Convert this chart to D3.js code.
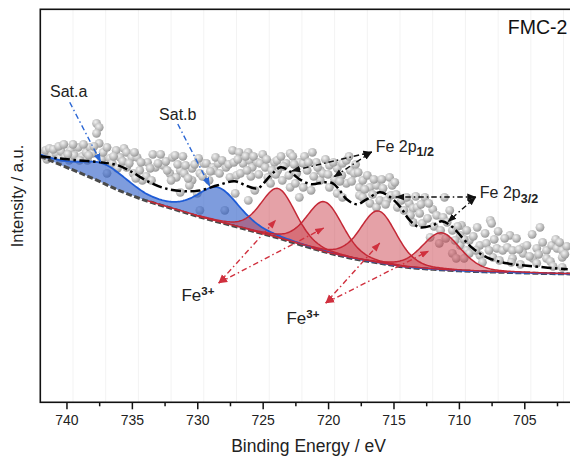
<!DOCTYPE html>
<html>
<head>
<meta charset="utf-8">
<script src="https://cdn.jsdelivr.net/npm/d3@7"></script>
<style>
  html, body { margin: 0; padding: 0; background: #fff; }
  svg { display: block; font-family: "Liberation Sans", Arial, sans-serif; }
</style>
</head>
<body>
<svg id="chart" width="570" height="457"></svg>
<script>
// Fe 2p XPS spectrum of FMC-2 with Fe3+ and satellite deconvolution

// Binding-energy ticks (eV)
const xTicksMajor = [740, 735, 730, 725, 720, 715, 710, 705];
const xTicksMinor = [737.5, 732.5, 727.5, 722.5, 717.5, 712.5, 707.5, 702.5];

// Measured spectrum: [binding energy (eV), intensity (a.u.)]
const measured = [
  [741.7,24.7],[741.6,25.2],[741.3,25.4],[741.1,24.7],[740.8,24.9],[740.5,24.4],[740.4,25.1],[740.1,24.5],
  [739.8,24.2],[739.7,25.2],[739.4,24.7],[739.1,25.5],[738.8,24.6],[738.5,25.0],[738.4,24.2],[738.2,25.5],
  [738.0,24.9],[737.7,27.9],[737.5,27.5],[737.7,26.9],[737.5,25.9],
  [741.5,24.3],[741.0,25.3],[740.6,25.6],[740.2,25.8],[739.9,24.8],[739.5,25.8],[739.0,24.2],[738.7,25.8],
  [738.3,24.7],[737.9,25.6],[737.3,24.3],
  [737.2,25.0],[736.7,24.4],[736.2,25.2],[735.9,24.5],[735.6,25.4],[735.4,25.0],[735.0,24.5],[734.6,24.5],
  [736.5,23.9],[736.1,23.4],[735.4,23.5],[734.9,22.9],[734.4,23.2],[734.2,22.2],[733.9,22.6],[733.5,22.2],
  [736.9,22.9],[733.8,24.0],[733.2,23.5],
  [736.9,25.5],[736.4,24.6],[735.7,24.1],[735.2,23.9],[734.8,25.0],[734.3,24.0],[733.6,23.4],[734.7,22.4],
  [733.4,24.8],
  [732.6,23.7],[732.4,24.1],[732.1,22.9],[731.9,24.5],[731.7,24.7],[731.6,22.5],[731.3,23.2],[731.0,22.9],
  [730.4,23.4],[730.4,22.2],[730.0,20.9],[729.8,22.9],[729.8,19.2],[729.5,23.9],[729.3,23.9],[728.8,23.5],
  [728.7,23.2],[728.4,23.9],[728.3,22.9],[727.9,19.2],[727.8,23.5],[727.5,22.5],[727.3,25.2],[726.8,25.0],
  [727.1,20.9],[731.3,21.0],[732.0,22.2],[733.0,23.9],[730.6,21.7],[729.1,22.2],[730.7,22.4],
  [732.8,24.8],[732.3,23.2],[731.5,23.8],[731.1,24.6],[730.9,23.7],[730.2,23.8],[729.9,24.4],[729.6,22.6],
  [729.0,23.1],[728.6,24.5],[728.1,24.2],[727.6,23.8],[727.2,24.0],[727.0,22.7],
  [726.5,23.9],[726.1,25.0],[726.0,24.2],[725.9,22.6],[725.8,23.5],[725.6,21.2],[725.4,24.0],[725.2,23.9],
  [724.8,23.5],[724.6,22.5],[724.4,21.9],[724.1,24.0],[723.85,23.2],[723.5,22.2],[722.9,24.9],[722.9,21.5],
  [722.7,24.6],[723.2,23.9],[726.1,20.2],[726.7,22.9],[722.4,22.9],[722.2,24.0],[722.2,20.5],[723.9,24.2],
  [726.9,24.3],[726.3,24.6],[726.2,23.2],[725.7,24.6],[725.3,22.8],[725.0,24.8],[724.7,24.3],[724.3,23.2],
  [724.0,22.8],[723.6,24.6],[723.4,23.6],[723.0,22.7],[722.6,23.8],[722.5,21.9],
  [721.9,23.9],[721.6,23.2],[721.2,25.0],[720.9,24.0],[720.6,23.2],[720.6,22.2],[720.4,22.9],[719.9,23.7],
  [719.9,21.5],[719.3,23.4],[719.3,20.9],[718.95,22.7],[718.9,23.9],[718.9,20.5],[718.6,24.2],[718.6,21.9],
  [718.3,23.2],[718.0,22.9],[717.7,23.0],[717.6,21.5],[717.6,20.7],[717.35,22.2],[717.35,20.5],[716.8,21.5],
  [716.8,19.9],[716.3,21.7],[716.3,19.5],[716.05,20.2],[715.8,21.4],[715.5,20.2],[715.3,22.5],[715.1,21.7],
  [714.9,22.0],[714.7,19.5],[721.3,21.2],[721.9,21.5],
  [721.8,24.6],[721.5,24.0],[721.1,22.6],[720.8,23.5],[720.2,24.3],[720.0,22.8],[719.6,24.0],[719.5,22.3],
  [719.1,22.1],[718.4,24.6],[718.2,22.1],[717.9,23.8],[717.2,21.3],[717.0,22.7],[716.6,20.8],[716.5,22.3],
  [715.9,22.3],[715.6,19.8],[715.2,20.7],[714.8,20.8],
  [714.4,20.2],[713.8,19.9],[713.5,19.4],[713.5,18.0],[713.2,19.5],[713.0,18.9],[712.8,17.9],[712.6,20.5],
  [712.2,16.5],[712.0,19.3],[711.7,18.7],[711.5,15.9],[711.2,18.5],[711.1,20.5],[710.9,18.0],[710.5,17.2],
  [710.5,14.9],[710.2,14.4],[709.9,16.7],[709.9,15.7],[709.8,17.7],[709.4,17.2],[709.4,15.2],[709.2,16.2],
  [709.2,14.9],
  [714.2,19.2],[714.0,20.5],[713.7,18.7],[713.3,20.6],[712.9,19.8],[712.4,18.4],[712.3,19.9],[711.9,17.6],
  [711.4,17.2],[711.0,16.4],[710.7,19.2],[710.3,16.2],[710.1,17.6],[709.6,16.3],[709.6,14.4],
  [708.6,17.5],[708.4,15.7],[708.4,14.7],[708.2,14.0],[707.9,15.9],[707.6,18.2],[707.5,17.9],[707.4,14.5],
  [707.1,15.4],[707.0,17.1],[706.65,15.2],[706.3,15.5],[706.1,16.7],[705.9,15.2],[705.9,14.4],[705.6,16.4],
  [705.1,15.5],[705.1,14.9],[704.8,15.7],[704.35,14.4],[704.05,15.4],[704.05,13.9],[703.8,17.5],[703.3,15.2],
  [703.3,14.4],[702.9,15.7],[702.6,16.3],[702.5,15.4],[702.1,15.2],[702.1,14.5],[702.1,13.5],[701.75,15.6],
  [708.9,16.6],[708.7,15.2],[708.0,16.9],[707.7,15.2],[707.3,16.3],[706.9,14.2],[706.5,16.4],[706.0,14.0],
  [705.4,15.3],[705.3,13.8],[704.6,14.6],[704.4,16.8],[703.9,14.8],[703.6,16.0],[703.0,14.1],[702.8,13.6],
  [702.3,16.0],[701.9,14.8]
];

// Shirley-type background
const bgEnergy    = [742, 740, 738, 736, 734, 732, 730, 728, 726, 724, 722, 720, 718, 716, 714, 712, 710, 708, 706, 704, 702, 700];
const bgIntensity = [24.6, 23.5, 22.4, 21.2, 20.2, 19.4, 18.6, 17.9, 17.2, 16.5, 15.7, 14.95, 14.35, 13.9, 13.5, 13.3, 13.15, 13.05, 12.98, 12.9, 12.85, 12.8];

// Fitted envelope
const envEnergy    = [741.97, 740.67, 739.14, 737.38, 736.08, 735.09, 733.79, 732.49, 730.96, 729.74, 728.44, 727.14, 726.14,
                      725.38, 724.39, 723.62, 722.94, 722.17, 721.25, 720.33, 719.64, 719.11, 718.58, 717.81, 717.05, 716.05,
                      715.44, 714.52, 713.76, 712.99, 712.0, 711.31, 710.47, 709.7, 708.94, 707.87, 706.34, 704.35, 701.68];
const envIntensity = [24.6, 24.4, 24.2, 24.0, 23.7, 23.1, 22.1, 21.4, 21.1, 21.2, 21.7, 22.1, 21.6,
                      21.4, 22.7, 23.5, 23.1, 22.3, 21.8, 22.0, 21.9, 21.2, 20.3, 19.8, 20.3, 21.0,
                      20.7, 19.6, 18.2, 17.5, 17.7, 18.1, 17.5, 16.4, 15.4, 14.5, 13.9, 13.6, 13.3];

// Satellite components (Sat.a, Sat.b): centre (eV), height (a.u.), FWHM (eV)
const satCenter = [737.0, 728.4];
const satHeight = [1.9, 3.4];
const satFwhm   = [4.4, 3.9];
const satLorentz = 0.4;

// Fe3+ components (2p1/2 and 2p3/2 multiplets)
const fe3Center = [723.8, 720.25, 716.15, 711.35];
const fe3Height = [4.95, 5.0, 5.2, 3.7];
const fe3Fwhm   = [3.2, 3.3, 3.3, 3.5];
const fe3Lorentz = 0.3;

// Annotations: label, anchor [eV, a.u.], arrow from -> to
const satLabels = [
  { text: "Sat.a", at: [739.83, 30.53], from: [739.75, 30.0], to: [737.38, 24.03] },
  { text: "Sat.b", at: [731.49, 28.23], from: [731.49, 27.83], to: [729.05, 21.63] }
];
const orbitLabels = [
  { main: "Fe 2p", sub: "1/2", at: [716.36, 25.08], from: [716.66, 25.03], to: [[722.78, 23.13], [719.57, 22.53]] },
  { main: "Fe 2p", sub: "3/2", at: [708.40, 20.40], from: [708.71, 20.53], to: [[714.83, 20.53], [710.85, 18.03]] }
];
const ionLabels = [
  { main: "Fe", sup: "3+", at: [731.21, 10.18], from: [728.36, 11.93], to: [[724.0, 18.23], [720.33, 17.43]] },
  { main: "Fe", sup: "3+", at: [723.18, 7.88],  from: [720.18, 9.93],  to: [[716.05, 15.93], [712.30, 15.13]] }
];
const sampleName = { text: "FMC-2", at: [706.26, 36.83] };

// ---------------------------------------------------------------
(function draw() {
const svg = d3.select("#chart");
const pL = 40.3, pR = 589.7, pT = 9.3, pB = 402.3;

const x = d3.scaleLinear().domain([742, 700]).range([pL, pR]);
const y = d3.scaleLinear().domain([0, 39.3]).range([pB, pT]);

const bgAt = d3.scaleLinear().domain(bgEnergy).range(bgIntensity);

// Pseudo-Voigt line shape
function pv(e, c, h, w, eta) {
  const t = (e - c) / w;
  return h * ((1 - eta) * Math.exp(-4 * Math.LN2 * t * t) + eta / (1 + 4 * t * t));
}

const grid = d3.range(742, 699.95, -0.1);

const defs = svg.append("defs");
defs.append("clipPath").attr("id", "plotClip")
  .append("rect").attr("x", pL).attr("y", pT).attr("width", pR - pL).attr("height", pB - pT);

const ball = defs.append("radialGradient").attr("id", "ball")
  .attr("cx", "38%").attr("cy", "35%").attr("r", "65%");
ball.append("stop").attr("offset", "0%").attr("stop-color", "#f2f2f2");
ball.append("stop").attr("offset", "55%").attr("stop-color", "#c4c4c4");
ball.append("stop").attr("offset", "100%").attr("stop-color", "#9a9a9a");

function marker(id, color) {
  defs.append("marker").attr("id", id)
    .attr("viewBox", "0 -4 9 8").attr("refX", 8.5).attr("refY", 0)
    .attr("markerUnits", "userSpaceOnUse").attr("markerWidth", 9).attr("markerHeight", 8)
    .attr("orient", "auto-start-reverse")
    .append("path").attr("d", "M0,-3.4L9,0L0,3.4Z").attr("fill", color);
}
marker("arrBlue", "#2a66d4");
marker("arrBlack", "#111");
marker("arrRed", "#d0303e");

// faint grid
const gridG = svg.append("g").attr("stroke", "#f3f3f3").attr("stroke-width", 1);
d3.range(742, 700, -2.5).slice(1).forEach(e => {
  gridG.append("line").attr("x1", x(e)).attr("x2", x(e)).attr("y1", pT).attr("y2", pB);
});

const plot = svg.append("g").attr("clip-path", "url(#plotClip)");

// measured points
plot.append("g").selectAll("circle").data(measured).join("circle")
  .attr("cx", d => x(d[0])).attr("cy", d => y(d[1])).attr("r", 4.4)
  .attr("fill", "url(#ball)");

// satellite components (summed)
const satCurve = grid.map(e => {
  let s = bgAt(e);
  satCenter.forEach((c, i) => { s += pv(e, c, satHeight[i], satFwhm[i], satLorentz); });
  return [e, s];
});
plot.append("path").datum(satCurve)
  .attr("fill", "#2f5fc8").attr("fill-opacity", 0.62)
  .attr("d", d3.area().x(d => x(d[0])).y0(d => y(bgAt(d[0]))).y1(d => y(d[1])));

// Fe3+ components, drawn over their own energy window
const fe3Curves = fe3Center.map((c, i) =>
  grid.filter(e => Math.abs(e - c) <= 10)
      .map(e => [e, bgAt(e) + pv(e, c, fe3Height[i], fe3Fwhm[i], fe3Lorentz)]));
fe3Curves.forEach(curve => {
  plot.append("path").datum(curve)
    .attr("fill", "#c83a48").attr("fill-opacity", 0.48)
    .attr("d", d3.area().x(d => x(d[0])).y0(d => y(bgAt(d[0]))).y1(d => y(d[1])));
});

// background
plot.append("path").datum(bgEnergy.map((e, i) => [e, bgIntensity[i]]))
  .attr("fill", "none").attr("stroke", "#4a4a4a").attr("stroke-width", 3)
  .attr("stroke-dasharray", "6,2.5")
  .attr("d", d3.line().x(d => x(d[0])).y(d => y(d[1])).curve(d3.curveMonotoneX));

// component outlines
plot.append("path").datum(satCurve)
  .attr("fill", "none").attr("stroke", "#1f5cd6").attr("stroke-width", 1.8)
  .attr("d", d3.line().x(d => x(d[0])).y(d => y(d[1])));
fe3Curves.forEach(curve => {
  plot.append("path").datum(curve)
    .attr("fill", "none").attr("stroke", "#c42836").attr("stroke-width", 1.5)
    .attr("d", d3.line().x(d => x(d[0])).y(d => y(d[1])));
});

// envelope
plot.append("path").datum(envEnergy.map((e, i) => [e, envIntensity[i]]))
  .attr("fill", "none").attr("stroke", "#000").attr("stroke-width", 2.5)
  .attr("stroke-dasharray", "10,3.5,2.5,3.5")
  .attr("d", d3.line().x(d => x(d[0])).y(d => y(d[1])).curve(d3.curveCatmullRom));

// frame
svg.append("rect").attr("x", pL).attr("y", pT).attr("width", pR - pL).attr("height", pB - pT)
  .attr("fill", "none").attr("stroke", "#111").attr("stroke-width", 1.6);

// x axis
const xAxis = svg.append("g").attr("transform", `translate(0,${pB})`)
  .call(d3.axisBottom(x).tickValues(xTicksMajor).tickSize(7).tickPadding(5.5).tickFormat(d3.format("d")));
xAxis.select(".domain").remove();
xAxis.selectAll("line").attr("stroke", "#111").attr("stroke-width", 1.5);
xAxis.selectAll("text").attr("font-size", 14).attr("fill", "#222")
  .attr("font-family", '"Liberation Sans", Arial, sans-serif');
const xMinor = svg.append("g").attr("transform", `translate(0,${pB})`)
  .call(d3.axisBottom(x).tickValues(xTicksMinor).tickSize(4).tickFormat(""));
xMinor.select(".domain").remove();
xMinor.selectAll("line").attr("stroke", "#111").attr("stroke-width", 1.5);

// axis titles
svg.append("text").attr("x", 308.5).attr("y", 452).attr("text-anchor", "middle")
  .attr("font-size", 17.5).attr("fill", "#222").text("Binding Energy / eV");
svg.append("text").attr("transform", "translate(23,196) rotate(-90)").attr("text-anchor", "middle")
  .attr("font-size", 16.5).attr("fill", "#222").text("Intensity / a.u.");

// annotations
const ann = svg.append("g");
const dash = "5.5,3,1.5,3";

satLabels.forEach(s => {
  ann.append("line")
    .attr("x1", x(s.from[0])).attr("y1", y(s.from[1])).attr("x2", x(s.to[0])).attr("y2", y(s.to[1]))
    .attr("stroke", "#2a66d4").attr("stroke-width", 1.4).attr("stroke-dasharray", dash)
    .attr("marker-end", "url(#arrBlue)");
  ann.append("text").attr("x", x(s.at[0])).attr("y", y(s.at[1])).attr("text-anchor", "middle")
    .attr("font-size", 16).attr("fill", "#222").text(s.text);
});

orbitLabels.forEach(o => {
  o.to.forEach(t => {
    ann.append("line")
      .attr("x1", x(o.from[0])).attr("y1", y(o.from[1])).attr("x2", x(t[0])).attr("y2", y(t[1]))
      .attr("stroke", "#111").attr("stroke-width", 1.4).attr("stroke-dasharray", dash)
      .attr("marker-start", "url(#arrBlack)").attr("marker-end", "url(#arrBlack)");
  });
  const t = ann.append("text").attr("x", x(o.at[0])).attr("y", y(o.at[1])).attr("font-size", 16).attr("fill", "#222");
  t.append("tspan").text(o.main);
  t.append("tspan").attr("dy", 4.5).attr("font-size", 12.5).attr("font-weight", "bold").text(o.sub);
});

ionLabels.forEach(o => {
  o.to.forEach(t => {
    ann.append("line")
      .attr("x1", x(o.from[0])).attr("y1", y(o.from[1])).attr("x2", x(t[0])).attr("y2", y(t[1]))
      .attr("stroke", "#d0303e").attr("stroke-width", 1.4).attr("stroke-dasharray", dash)
      .attr("marker-start", "url(#arrRed)").attr("marker-end", "url(#arrRed)");
  });
  const t = ann.append("text").attr("x", x(o.at[0])).attr("y", y(o.at[1])).attr("font-size", 17).attr("fill", "#222");
  t.append("tspan").text(o.main);
  t.append("tspan").attr("dy", -6).attr("font-size", 11.5).attr("font-weight", "bold").text(o.sup);
});

svg.append("text").attr("x", x(sampleName.at[0])).attr("y", y(sampleName.at[1]))
  .attr("font-size", 19.5).attr("fill", "#111").text(sampleName.text);
})();
</script>
</body>
</html>
